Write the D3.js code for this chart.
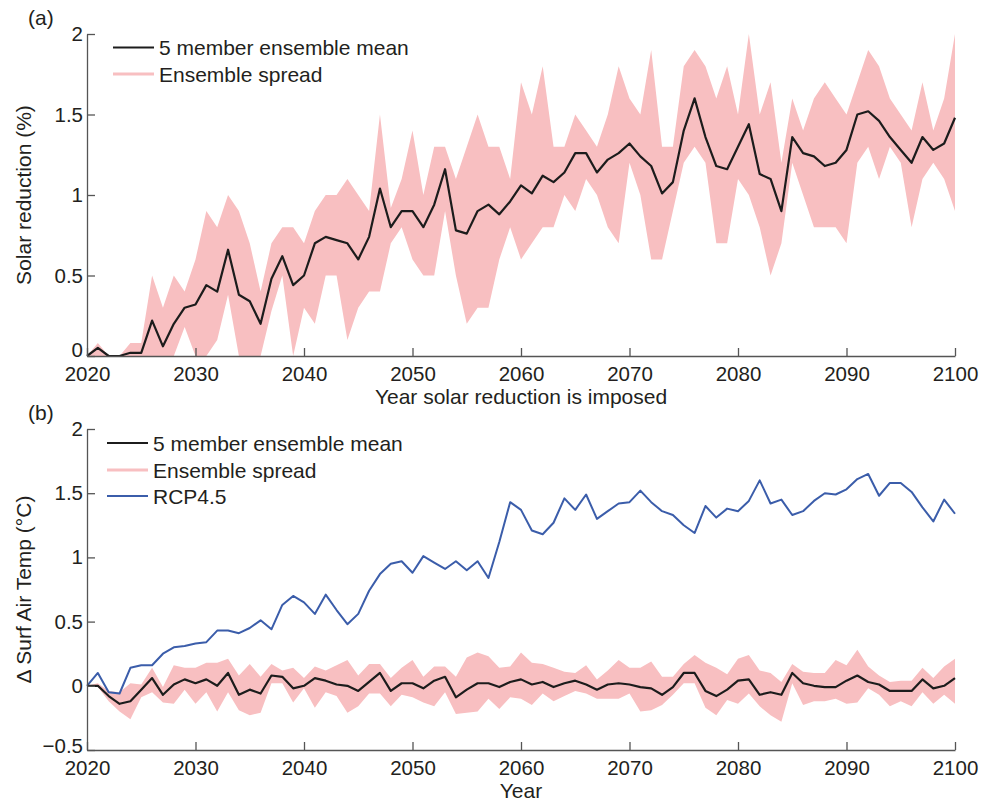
<!DOCTYPE html>
<html>
<head>
<meta charset="utf-8">
<script src="https://cdn.jsdelivr.net/npm/d3@7"></script>
<style>
  body { margin: 0; background: #fff; }
  svg { display: block; }
  text { font-family: "Liberation Sans", Arial, Helvetica, sans-serif; fill: #231f20; }
</style>
</head>
<body>
<svg id="chart" width="981" height="801"></svg>
<script>
// Years of the experiment, one value per year
const years = d3.range(2020, 2101);
const xTicks = [2020, 2030, 2040, 2050, 2060, 2070, 2080, 2090, 2100];

// (a) Solar reduction (%) — ensemble mean and min/max spread
const solarMean = [
  0, 0.05, 0, 0, 0.02, 0.02, 0.22, 0.06, 0.20, 0.30,
  0.32, 0.44, 0.40, 0.66, 0.38, 0.34, 0.20, 0.48, 0.62, 0.44,
  0.50, 0.70, 0.74, 0.72, 0.70, 0.60, 0.74, 1.04, 0.80, 0.90,
  0.90, 0.80, 0.94, 1.16, 0.78, 0.76, 0.90, 0.94, 0.88, 0.96,
  1.06, 1.01, 1.12, 1.08, 1.14, 1.26, 1.26, 1.14, 1.22, 1.26,
  1.32, 1.24, 1.18, 1.01, 1.08, 1.40, 1.60, 1.36, 1.18, 1.16,
  1.30, 1.44, 1.13, 1.10, 0.90, 1.36, 1.26, 1.24, 1.18, 1.20,
  1.28, 1.50, 1.52, 1.46, 1.36, 1.28, 1.20, 1.36, 1.28, 1.32,
  1.48
];
const solarHigh = [
  0, 0.08, 0, 0, 0.08, 0.08, 0.5, 0.3, 0.5, 0.4,
  0.6, 0.9, 0.8, 1.0, 0.9, 0.7, 0.4, 0.7, 0.8, 0.8,
  0.7, 0.9, 1.0, 1.0, 1.1, 1.0, 0.9, 1.5, 0.92, 1.1,
  1.4, 1.0, 1.3, 1.3, 1.1, 1.3, 1.5, 1.3, 1.3, 1.1,
  1.7, 1.5, 1.8, 1.3, 1.3, 1.5, 1.4, 1.3, 1.5, 1.8,
  1.6, 1.5, 1.9, 1.3, 1.3, 1.8, 1.9, 1.8, 1.6, 1.8,
  1.5, 2.0, 1.5, 1.7, 1.2, 1.6, 1.4, 1.6, 1.7, 1.6,
  1.5, 1.7, 1.9, 1.8, 1.6, 1.5, 1.4, 1.7, 1.4, 1.6,
  2.0
];
const solarLow = [
  0, 0, 0, 0, 0, 0, 0, 0, 0, 0.18,
  0, 0, 0.1, 0.38, 0, 0, 0, 0.28, 0.5, 0,
  0.3, 0.2, 0.5, 0.5, 0.1, 0.3, 0.4, 0.4, 0.7, 0.8,
  0.6, 0.5, 0.5, 0.9, 0.5, 0.2, 0.3, 0.3, 0.6, 0.8,
  0.6, 0.7, 0.8, 0.8, 1.0, 0.9, 1.1, 1.0, 0.8, 0.7,
  1.2, 1.0, 0.6, 0.6, 0.9, 1.2, 1.3, 1.2, 0.7, 0.7,
  1.1, 1.0, 0.8, 0.5, 0.7, 1.2, 1.0, 0.8, 0.8, 0.8,
  0.7, 1.2, 1.3, 1.1, 1.3, 1.2, 0.8, 1.1, 1.2, 1.1,
  0.9
];

// (b) Change in surface air temperature (°C)
const tempMean = [
  0, 0, -0.08, -0.14, -0.12, -0.03, 0.06, -0.07, 0.01, 0.05,
  0.02, 0.05, 0, 0.10, -0.07, -0.03, -0.06, 0.08, 0.07, -0.02,
  0, 0.06, 0.04, 0.01, 0, -0.04, 0.03, 0.10, -0.04, 0.02,
  0.02, -0.02, 0.04, 0.07, -0.09, -0.03, 0.02, 0.02, -0.01, 0.03,
  0.05, 0.01, 0.03, -0.01, 0.02, 0.04, 0.01, -0.03, 0.01, 0.02,
  0.01, -0.01, -0.02, -0.07, -0.01, 0.10, 0.10, -0.04, -0.08, -0.03,
  0.04, 0.05, -0.07, -0.05, -0.07, 0.10, 0.02, 0, -0.01, -0.01,
  0.04, 0.08, 0.03, 0.01, -0.04, -0.04, -0.04, 0.05, -0.02, 0,
  0.06
];
const tempHigh = [
  0, 0.02, -0.04, -0.05, 0.02, 0.01, 0.14, -0.01, 0.16, 0.14,
  0.14, 0.18, 0.18, 0.21, 0.08, 0.17, 0.07, 0.17, 0.12, 0.14,
  0.06, 0.15, 0.12, 0.16, 0.20, 0.08, 0.17, 0.17, 0.06, 0.14,
  0.20, 0.07, 0.15, 0.15, 0.07, 0.22, 0.26, 0.23, 0.14, 0.15,
  0.26, 0.18, 0.17, 0.14, 0.11, 0.10, 0.16, 0.05, 0.12, 0.20,
  0.14, 0.14, 0.19, 0.07, 0.07, 0.17, 0.24, 0.18, 0.14, 0.09,
  0.21, 0.24, 0.12, 0.10, 0.03, 0.17, 0.11, 0.10, 0.10, 0.20,
  0.16, 0.28, 0.15, 0.08, 0.03, 0.04, 0.04, 0.14, 0.06, 0.15,
  0.21
];
const tempLow = [
  0, -0.01, -0.12, -0.20, -0.26, -0.09, -0.05, -0.13, -0.14, -0.03,
  -0.14, -0.05, -0.20, -0.05, -0.19, -0.23, -0.21, 0.02, 0.02, -0.13,
  -0.02, -0.17, -0.05, -0.08, -0.21, -0.16, -0.06, -0.06, -0.16, -0.07,
  -0.09, -0.13, -0.16, -0.05, -0.22, -0.21, -0.20, -0.10, -0.18, -0.09,
  -0.10, -0.15, -0.06, -0.12, -0.08, -0.04, -0.06, -0.10, -0.10, -0.10,
  -0.06, -0.20, -0.19, -0.15, -0.07, 0.02, 0.02, -0.17, -0.23, -0.11,
  -0.14, -0.06, -0.16, -0.23, -0.28, 0.02, -0.15, -0.12, -0.12, -0.10,
  -0.14, -0.13, -0.02, -0.07, -0.16, -0.12, -0.16, -0.05, -0.14, -0.07,
  -0.14
];
const rcp45 = [
  0, 0.10, -0.05, -0.06, 0.14, 0.16, 0.16, 0.25, 0.30, 0.31,
  0.33, 0.34, 0.43, 0.43, 0.41, 0.45, 0.51, 0.44, 0.63, 0.70,
  0.65, 0.56, 0.71, 0.59, 0.48, 0.56, 0.74, 0.87, 0.95, 0.97,
  0.88, 1.01, 0.96, 0.91, 0.97, 0.90, 0.97, 0.84, 1.12, 1.43,
  1.37, 1.21, 1.18, 1.27, 1.46, 1.37, 1.49, 1.30, 1.36, 1.42,
  1.43, 1.52, 1.43, 1.36, 1.33, 1.25, 1.19, 1.40, 1.31, 1.38,
  1.36, 1.44, 1.60, 1.42, 1.45, 1.33, 1.36, 1.44, 1.50, 1.49,
  1.53, 1.61, 1.65, 1.48, 1.58, 1.58, 1.51, 1.39, 1.28, 1.45,
  1.34
];

// Axis ticks and labels
const yTicksA = [0, 0.5, 1, 1.5, 2];
const yLabelsA = ["0", "0.5", "1", "1.5", "2"];
const yTicksB = [-0.5, 0, 0.5, 1, 1.5, 2];
const yLabelsB = ["\u22120.5", "0", "0.5", "1", "1.5", "2"];

const COLOR_MEAN = "#1c1c1c";
const COLOR_SPREAD = "#f8bfc1";
const COLOR_RCP = "#3b5daa";
const COLOR_AXIS = "#555555";

const svg = d3.select("#chart");
const left = 87, right = 955;

const x = d3.scaleLinear().domain([2020, 2100]).range([left, right]);

function drawPanel(opts) {
  const y = d3.scaleLinear().domain(opts.yDomain).range([opts.bottom, opts.top]);
  const g = svg.append("g");

  // spread band
  const band = d3.area()
    .x((d, i) => x(years[i]))
    .y0((d, i) => y(opts.low[i]))
    .y1((d, i) => y(opts.high[i]));
  g.append("path").datum(years).attr("d", band)
    .attr("fill", COLOR_SPREAD).attr("stroke", "none");

  const line = d3.line().x((d, i) => x(years[i])).y(d => y(d));
  if (opts.rcp) {
    g.append("path").datum(opts.rcp).attr("d", line)
      .attr("fill", "none").attr("stroke", COLOR_RCP)
      .attr("stroke-width", 2).attr("stroke-linejoin", "round");
  }
  g.append("path").datum(opts.mean).attr("d", line)
    .attr("fill", "none").attr("stroke", COLOR_MEAN)
    .attr("stroke-width", 2.2).attr("stroke-linejoin", "round");

  // x axis with inward ticks
  const xAxis = d3.axisBottom(x).tickValues(xTicks).tickFormat(d3.format("d"))
    .tickSizeInner(-8).tickSizeOuter(0).tickPadding(10);
  const gx = g.append("g").attr("transform", `translate(0,${opts.bottom})`).call(xAxis);
  gx.attr("font-size", null).attr("font-family", null);
  gx.selectAll("path, line").attr("stroke", COLOR_AXIS).attr("stroke-width", 1.3);
  gx.selectAll("text").attr("fill", "#231f20").style("font-size", "20.5px");

  // y axis with inward ticks
  const yAxis = d3.axisLeft(y).tickValues(opts.yTicks)
    .tickFormat((d, i) => opts.yLabels[i])
    .tickSizeInner(-8).tickSizeOuter(0).tickPadding(4);
  const gy = g.append("g").attr("transform", `translate(${left},0)`).call(yAxis);
  gy.attr("font-size", null).attr("font-family", null);
  gy.selectAll("path, line").attr("stroke", COLOR_AXIS).attr("stroke-width", 1.3);
  gy.selectAll("text").attr("fill", "#231f20").style("font-size", "20.5px")
    .attr("y", (d, i) => i === 0 ? -opts.lowLift : 0);

  // axis titles
  g.append("text").attr("x", (left + right) / 2).attr("y", opts.xTitleY)
    .attr("text-anchor", "middle").style("font-size", "21px").text(opts.xTitle);
  g.append("text")
    .attr("transform", `translate(31,${(opts.top + opts.bottom) / 2}) rotate(-90)`)
    .attr("text-anchor", "middle").style("font-size", "21px").text(opts.yTitle);

  // panel tag
  g.append("text").attr("x", 28).attr("y", opts.tagY)
    .style("font-size", "21px").text(opts.tag);

  // legend
  const lg = g.append("g");
  opts.legend.forEach(item => {
    lg.append("line")
      .attr("x1", opts.legendX).attr("x2", opts.legendX + 41)
      .attr("y1", item.y).attr("y2", item.y)
      .attr("stroke", item.color).attr("stroke-width", item.width);
    lg.append("text").attr("x", opts.legendX + 46).attr("y", item.y + 7.5)
      .style("font-size", "21px").text(item.label);
  });
}

drawPanel({
  top: 34, bottom: 356, yDomain: [0, 2],
  yTicks: yTicksA, yLabels: yLabelsA, lowLift: 6,
  mean: solarMean, high: solarHigh, low: solarLow,
  xTitle: "Year solar reduction is imposed", xTitleY: 404,
  yTitle: "Solar reduction (%)",
  tag: "(a)", tagY: 25,
  legendX: 113,
  legend: [
    { label: "5 member ensemble mean", color: COLOR_MEAN, width: 2.2, y: 47.5 },
    { label: "Ensemble spread", color: COLOR_SPREAD, width: 3, y: 74 }
  ]
});

drawPanel({
  top: 429, bottom: 750, yDomain: [-0.5, 2],
  yTicks: yTicksB, yLabels: yLabelsB, lowLift: 4,
  mean: tempMean, high: tempHigh, low: tempLow, rcp: rcp45,
  xTitle: "Year", xTitleY: 798,
  yTitle: "\u0394 Surf Air Temp (\u00B0C)",
  tag: "(b)", tagY: 420,
  legendX: 107,
  legend: [
    { label: "5 member ensemble mean", color: COLOR_MEAN, width: 2.2, y: 443 },
    { label: "Ensemble spread", color: COLOR_SPREAD, width: 3, y: 470 },
    { label: "RCP4.5", color: COLOR_RCP, width: 2, y: 496 }
  ]
});
</script>
</body>
</html>
